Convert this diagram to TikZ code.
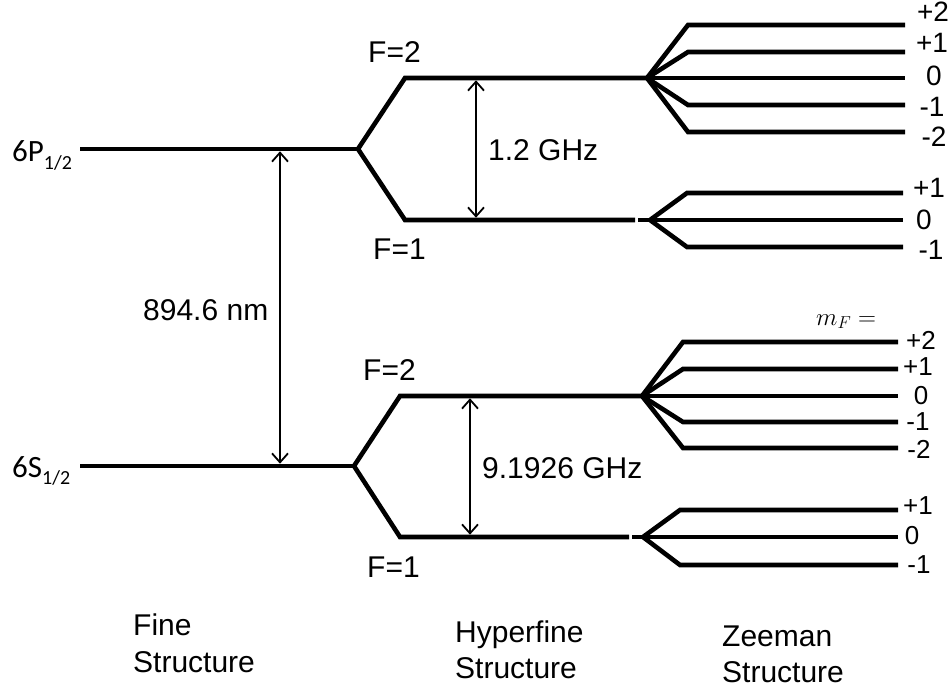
\documentclass[tikz,border=0pt]{standalone}
\usepackage{fontspec}
\setmainfont{Liberation Sans}
\newfontfamily\carlito{Carlito}
\usetikzlibrary{arrows.meta}
\begin{document}
\begin{tikzpicture}[x=1pt,y=-1pt,
  level/.style={line width=4.6pt, line join=miter},
  split/.style={<->, >={Straight Barb[length=9pt,width=16pt,line width=1.8pt]}, line width=1.8pt},
  txt/.style={anchor=base west, inner sep=0pt, font=\fontsize{30}{37}\selectfont},
  mlab/.style={anchor=center, inner sep=0pt, font=\fontsize{28}{30}\selectfont},
  mlabs/.style={anchor=center, inner sep=0pt, font=\fontsize{26}{28}\selectfont},
  term/.style={anchor=base west, inner sep=0pt, font=\carlito\fontsize{31}{31}\selectfont}]
\useasboundingbox (0,0) rectangle (948,687);

% ---------- fine structure ----------
\coordinate (P)   at (80,149);
\coordinate (Pb)  at (358,149);
\coordinate (S)   at (80,466);
\coordinate (Sb)  at (354,466);

% ---------- hyperfine (upper, 6P) ----------
\coordinate (U2a) at (405,78);
\coordinate (U2f) at (647,78);
\coordinate (U1a) at (405,220);
\coordinate (U1b) at (635,220);
\coordinate (U1c) at (638,220);
\coordinate (U1f) at (650,220);

% ---------- hyperfine (lower, 6S) ----------
\coordinate (L2a) at (400,396);
\coordinate (L2f) at (642,396);
\coordinate (L1a) at (400,537);
\coordinate (L1b) at (629,537);
\coordinate (L1c) at (632,537);
\coordinate (L1f) at (643,537);

% level lines
\draw[level] (P) -- (Pb);
\draw[level] (U2f) -- (U2a) -- (Pb) -- (U1a) -- (U1b);
\draw[level] (U1c) -- (U1f);
\draw[level] (S) -- (Sb);
\draw[level] (L2f) -- (L2a) -- (Sb) -- (L1a) -- (L1b);
\draw[level] (L1c) -- (L1f);

% ---------- Zeeman, upper F=2 ----------
\foreach \y/\n in {25/a,52/b,105/d,132/e}{
  \coordinate (ua\n) at (688,\y);
  \coordinate (ub\n) at (905,\y);
  \draw[level] (U2f) -- (ua\n) -- (ub\n);
}
\coordinate (ubc) at (905,78);
\draw[level] (U2f) -- (ubc);

% ---------- Zeeman, upper F=1 ----------
\foreach \y/\n in {193/a,247/c}{
  \coordinate (va\n) at (687,\y);
  \coordinate (vb\n) at (903,\y);
  \draw[level] (U1f) -- (va\n) -- (vb\n);
}
\coordinate (vbb) at (903,220);
\draw[level] (U1f) -- (vbb);

% ---------- Zeeman, lower F=2 ----------
\foreach \y/\n in {342/a,369/b,422/d,448/e}{
  \coordinate (la\n) at (683,\y);
  \coordinate (lb\n) at (898,\y);
  \draw[level] (L2f) -- (la\n) -- (lb\n);
}
\coordinate (lbc) at (898,396);
\draw[level] (L2f) -- (lbc);

% ---------- Zeeman, lower F=1 ----------
\foreach \y/\n in {510/a,565/c}{
  \coordinate (ma\n) at (680,\y);
  \coordinate (mb\n) at (898,\y);
  \draw[level] (L1f) -- (ma\n) -- (mb\n);
}
\coordinate (mbb) at (898,537);
\draw[level] (L1f) -- (mbb);

% ---------- splitting arrows ----------
\coordinate (fa) at (280,149);
\coordinate (fb) at (280,466);
\draw[split, shorten <=2.3pt, shorten >=2.3pt] (fa) -- (fb);
\coordinate (ha) at (476,78);
\coordinate (hb) at (476,220);
\draw[split, shorten <=2.3pt, shorten >=2.3pt] (ha) -- (hb);
\coordinate (ga) at (470,396);
\coordinate (gb) at (470,537);
\draw[split, shorten <=2.3pt, shorten >=2.3pt] (ga) -- (gb);

% ---------- labels ----------
\node[term] (l6P) at (12,162) {6P\raisebox{-8pt}{\fontsize{20}{20}\selectfont 1/2}};
\node[term] (l6S) at (12,477) {6S\raisebox{-7pt}{\fontsize{20}{20}\selectfont 1/2}};

\node[txt] (nm)  at (143,320) {894.6 nm};
\node[txt] (g12) at (488,161) {1.2 GHz};
\node[txt] (g91) at (482,478) {9.1926 GHz};

\node[txt] (uF2) at (368,63)  {F=2};
\node[txt] (uF1) at (373,260) {F=1};
\node[txt] (lF2) at (363,380) {F=2};
\node[txt] (lF1) at (367,577) {F=1};

\node[anchor=base west, inner sep=0pt, font=\fontsize{27}{30}\selectfont] (mF) at (816,325) {$m_F =$};

% upper Zeeman labels
\node[mlab] (z1) at (933,12)  {+2};
\node[mlab] (z2) at (932,43)  {+1};
\node[mlab] (z3) at (934,76)  {0};
\node[mlab] (z4) at (932,107) {-1};
\node[mlab] (z5) at (934,137) {-2};
\node[mlab] (z6) at (929,188) {+1};
\node[mlab] (z7) at (924,220) {0};
\node[mlab] (z8) at (931,250) {-1};
% lower Zeeman labels
\node[mlabs] (y1) at (921,340) {+2};
\node[mlabs] (y2) at (918,367) {+1};
\node[mlabs] (y3) at (921,396) {0};
\node[mlabs] (y4) at (918,422) {-1};
\node[mlabs] (y5) at (919,449) {-2};
\node[mlabs] (y6) at (918,506) {+1};
\node[mlabs] (y7) at (912,536) {0};
\node[mlabs] (y8) at (919,565) {-1};

% column titles
\node[txt] (t1a) at (133,635) {Fine};
\node[txt] (t1b) at (133,672) {Structure};
\node[txt] (t2a) at (455,642) {Hyperfine};
\node[txt] (t2b) at (455,678) {Structure};
\node[txt] (t3a) at (722,646) {Zeeman};
\node[txt] (t3b) at (722,682) {Structure};
\end{tikzpicture}
\end{document}
